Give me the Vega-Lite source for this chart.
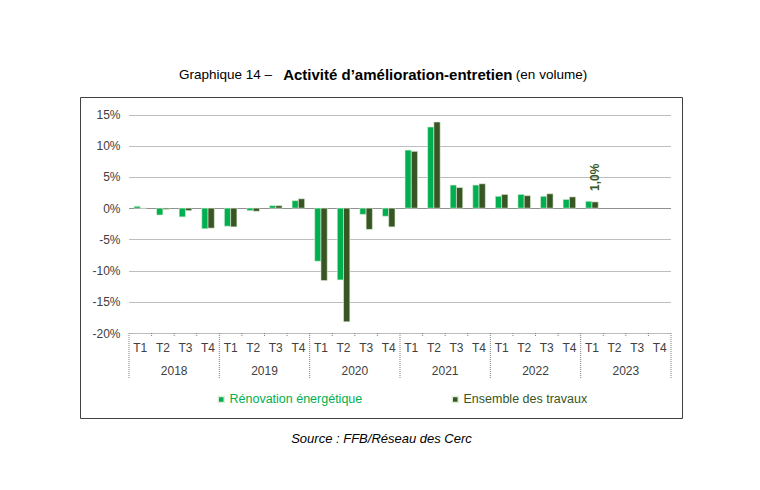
{
  "$schema": "https://vega.github.io/schema/vega-lite/v6.json",
  "width": 602,
  "height": 321,
  "autosize": "none",
  "padding": {"left": 80, "top": 97, "right": 78, "bottom": 72},
  "background": "white",
  "config": {
    "font": "Liberation Sans",
    "view": {"stroke": "#404040", "strokeWidth": 1},
    "locale": {"number": {"decimal": ",", "thousands": " ", "grouping": [3], "currency": ["", " €"], "minus": "-", "percent": "%"}}
  },
  "title": {
    "text": "Graphique 14 –\u00a0\u00a0\u00a0\u00a0\u00a0\u00a0\u00a0\u00a0\u00a0\u00a0\u00a0\u00a0\u00a0\u00a0\u00a0\u00a0\u00a0\u00a0\u00a0\u00a0\u00a0\u00a0\u00a0\u00a0\u00a0\u00a0\u00a0\u00a0\u00a0\u00a0\u00a0\u00a0\u00a0\u00a0\u00a0\u00a0\u00a0\u00a0\u00a0\u00a0\u00a0\u00a0\u00a0\u00a0\u00a0\u00a0\u00a0\u00a0\u00a0\u00a0\u00a0\u00a0\u00a0\u00a0\u00a0\u00a0\u00a0\u00a0\u00a0\u00a0\u00a0\u00a0\u00a0\u00a0\u00a0(en volume)",
    "subtitle": "\u200b\u00a0\u00a0\u00a0\u00a0\u00a0\u00a0\u00a0\u00a0\u00a0\u00a0\u00a0\u00a0\u00a0\u00a0\u00a0\u00a0\u00a0\u00a0\u00a0\u00a0\u00a0\u00a0\u00a0\u00a0\u00a0Activité d’amélioration-entretien",
    "anchor": "start",
    "frame": "group",
    "dx": 99,
    "offset": 14,
    "font": "Liberation Sans",
    "fontSize": 13.5,
    "fontWeight": "normal",
    "color": "#000000",
    "subtitleFont": "Liberation Sans",
    "subtitleFontSize": 15,
    "subtitleFontWeight": "bold",
    "subtitleColor": "#000000",
    "subtitlePadding": -14
  },
  "data": {
    "values": [
      {"periode": "2018-T1", "annee": "2018", "trim": "T1", "reno": 0.003, "ens": 0.0},
      {"periode": "2018-T2", "annee": "2018", "trim": "T2", "reno": -0.011, "ens": -0.002},
      {"periode": "2018-T3", "annee": "2018", "trim": "T3", "reno": -0.014, "ens": -0.004},
      {"periode": "2018-T4", "annee": "2018", "trim": "T4", "reno": -0.033, "ens": -0.032},
      {"periode": "2019-T1", "annee": "2019", "trim": "T1", "reno": -0.029, "ens": -0.030},
      {"periode": "2019-T2", "annee": "2019", "trim": "T2", "reno": -0.004, "ens": -0.005},
      {"periode": "2019-T3", "annee": "2019", "trim": "T3", "reno": 0.004, "ens": 0.004},
      {"periode": "2019-T4", "annee": "2019", "trim": "T4", "reno": 0.012, "ens": 0.015},
      {"periode": "2020-T1", "annee": "2020", "trim": "T1", "reno": -0.085, "ens": -0.116},
      {"periode": "2020-T2", "annee": "2020", "trim": "T2", "reno": -0.115, "ens": -0.182},
      {"periode": "2020-T3", "annee": "2020", "trim": "T3", "reno": -0.010, "ens": -0.034},
      {"periode": "2020-T4", "annee": "2020", "trim": "T4", "reno": -0.013, "ens": -0.030},
      {"periode": "2021-T1", "annee": "2021", "trim": "T1", "reno": 0.093, "ens": 0.091},
      {"periode": "2021-T2", "annee": "2021", "trim": "T2", "reno": 0.130, "ens": 0.138},
      {"periode": "2021-T3", "annee": "2021", "trim": "T3", "reno": 0.037, "ens": 0.033},
      {"periode": "2021-T4", "annee": "2021", "trim": "T4", "reno": 0.037, "ens": 0.039},
      {"periode": "2022-T1", "annee": "2022", "trim": "T1", "reno": 0.019, "ens": 0.022},
      {"periode": "2022-T2", "annee": "2022", "trim": "T2", "reno": 0.022, "ens": 0.020},
      {"periode": "2022-T3", "annee": "2022", "trim": "T3", "reno": 0.019, "ens": 0.023},
      {"periode": "2022-T4", "annee": "2022", "trim": "T4", "reno": 0.014, "ens": 0.018},
      {"periode": "2023-T1", "annee": "2023", "trim": "T1", "reno": 0.011, "ens": 0.010},
      {"periode": "2023-T2", "annee": "2023", "trim": "T2", "reno": null, "ens": null},
      {"periode": "2023-T3", "annee": "2023", "trim": "T3", "reno": null, "ens": null},
      {"periode": "2023-T4", "annee": "2023", "trim": "T4", "reno": null, "ens": null}
    ]
  },
  "layer": [
    {
      "transform": [{"fold": ["reno", "ens"], "as": ["serie", "valeur"]}],
      "mark": {"type": "bar", "stroke": "#dfeed8", "strokeWidth": 0.6},
      "encoding": {
        "x": {
          "field": "periode", "type": "nominal",
          "scale": {"type": "band", "range": [49, 591], "paddingInner": 0, "paddingOuter": 0},
          "axis": {
            "orient": "bottom", "offset": -85, "domain": false, "ticks": false, "grid": false,
            "labelExpr": "substring(datum.value, 5, 7)", "labelAngle": 0, "labelFontSize": 12,
            "labelColor": "#404040", "labelPadding": 9,
            "title": "Source : FFB/Réseau des Cerc", "titleFontStyle": "italic", "titleFontWeight": "normal",
            "titleFontSize": 13, "titleColor": "#000000", "titleX": 301, "titleY": 109,
            "titleAlign": "center", "titleBaseline": "alphabetic"
          }
        },
        "xOffset": {"field": "serie", "type": "nominal", "scale": {"domain": ["reno", "ens"], "paddingOuter": 0.8, "paddingInner": 0}},
        "y": {
          "field": "valeur", "type": "quantitative",
          "scale": {"domain": [-0.2, 0.15], "range": [236, 17.5], "nice": false, "zero": false},
          "axis": {
            "offset": -49, "values": [-0.2, -0.15, -0.1, -0.05, 0, 0.05, 0.1, 0.15], "format": ".0%",
            "domain": false, "ticks": false, "labelPadding": 9, "labelFontSize": 12, "labelColor": "#404040",
            "title": null, "grid": true,
            "gridColor": {"condition": {"test": "datum.value === 0", "value": "#222222"}, "value": "#7a7a7a"},
            "gridDash": [1, 1], "gridWidth": 1
          }
        },
        "color": {
          "field": "serie", "type": "nominal",
          "scale": {"domain": ["reno", "ens"], "range": ["#00B050", "#375623"]},
          "legend": {
            "orient": "none", "legendX": 135, "legendY": 296, "direction": "horizontal", "title": null,
            "labelExpr": "datum.value == 'reno' ? 'Rénovation énergétique' : 'Ensemble des travaux'",
            "labelColor": {"expr": "datum.value == 'reno' ? '#00B050' : '#375623'"},
            "symbolType": "square", "symbolSize": 36, "labelFontSize": 12.5, "columnPadding": 86, "labelOffset": 2
          }
        }
      }
    },
    {
      "transform": [
        {"fold": ["reno", "ens"], "as": ["serie", "valeur"]},
        {"filter": "datum.periode == '2023-T1' && datum.serie == 'ens'"}
      ],
      "mark": {"type": "text", "angle": 270, "align": "left", "baseline": "middle", "dx": 11, "fontWeight": "bold", "fontSize": 12, "color": "#375623"},
      "encoding": {
        "x": {"field": "periode", "type": "nominal", "scale": {"type": "band"}},
        "xOffset": {"field": "serie", "type": "nominal"},
        "y": {"field": "valeur", "type": "quantitative"},
        "text": {"field": "valeur", "type": "quantitative", "format": ".1%"}
      }
    },
    {
      "transform": [{"filter": "datum.trim != 'T1'"}],
      "mark": {"type": "rule", "color": "#808080", "strokeDash": [1, 1]},
      "encoding": {
        "x": {"field": "periode", "type": "nominal", "bandPosition": 0, "scale": {"type": "band"}},
        "y": {"datum": -0.2},
        "y2": {"datum": -0.2055}
      }
    },
    {
      "transform": [{"filter": "datum.trim == 'T1'"}],
      "mark": {"type": "rule", "color": "#808080", "strokeDash": [1, 1]},
      "encoding": {
        "x": {"field": "periode", "type": "nominal", "bandPosition": 0, "scale": {"type": "band"}},
        "y": {"datum": -0.2},
        "y2": {"datum": -0.273}
      }
    },
    {
      "transform": [{"filter": "datum.periode == '2023-T4'"}],
      "mark": {"type": "rule", "color": "#808080", "strokeDash": [1, 1]},
      "encoding": {
        "x": {"field": "periode", "type": "nominal", "bandPosition": 1, "scale": {"type": "band"}},
        "y": {"datum": -0.2},
        "y2": {"datum": -0.273}
      }
    },
    {
      "transform": [{"filter": "datum.trim == 'T2'"}],
      "mark": {"type": "text", "fontSize": 12, "color": "#404040", "baseline": "middle", "align": "center"},
      "encoding": {
        "x": {"field": "periode", "type": "nominal", "bandPosition": 1, "scale": {"type": "band"}},
        "y": {"datum": -0.261},
        "text": {"field": "annee", "type": "nominal"}
      }
    }
  ]
}
